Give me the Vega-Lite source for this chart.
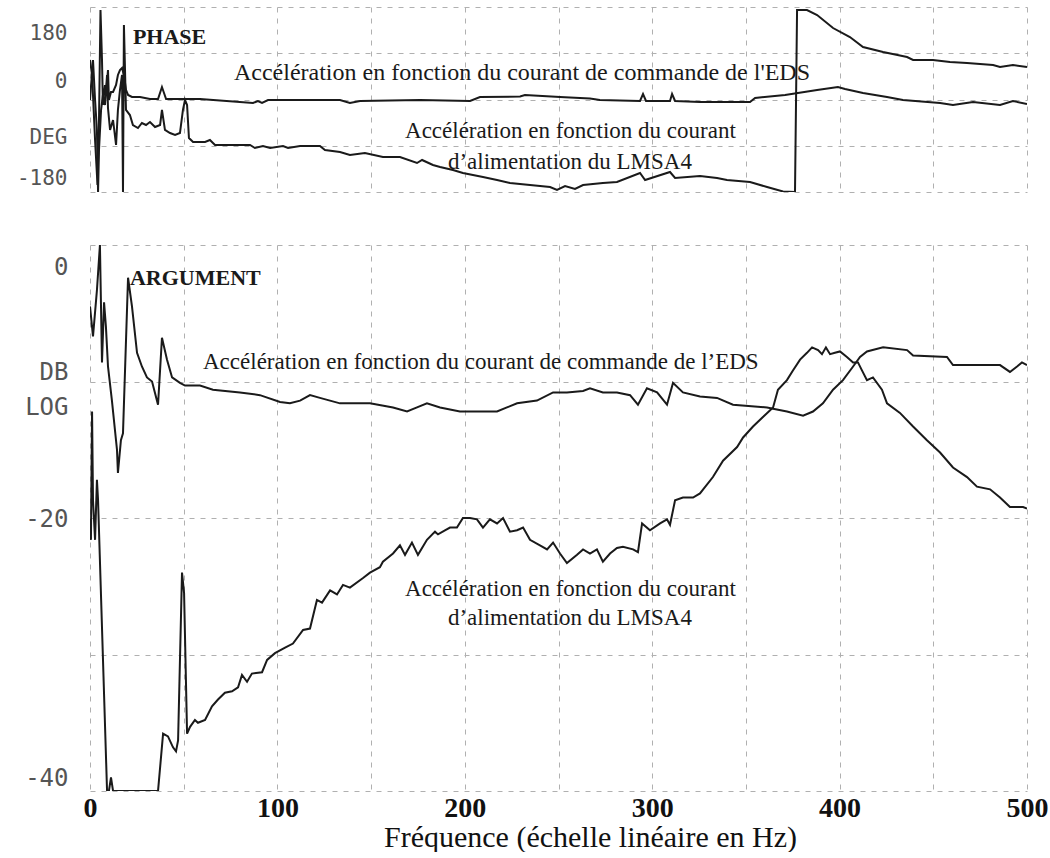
{
  "$schema": "https://vega.github.io/schema/vega-lite/v6.json",
  "background": "white",
  "padding": {"left": 16, "top": 7, "right": 5, "bottom": 0},
  "config": {"view": {"stroke": null}},
  "spacing": 53,
  "datasets": {
    "phase": [
      {"f":0,"v":76.9,"s":"EDS"},{"f":1.1,"v":47.7,"s":"EDS"},{"f":2.7,"v":-78.8,"s":"EDS"},{"f":4.0,"v":-166.4,"s":"EDS"},{"f":4.8,"v":-39.9,"s":"EDS"},{"f":5.6,"v":174.2,"s":"EDS"},{"f":6.4,"v":76.9,"s":"EDS"},{"f":6.9,"v":-10.7,"s":"EDS"},{"f":8.0,"v":28.2,"s":"EDS"},{"f":8.5,"v":8.8,"s":"EDS"},{"f":9.6,"v":57.4,"s":"EDS"},{"f":10.1,"v":-1.0,"s":"EDS"},{"f":11.2,"v":14.6,"s":"EDS"},{"f":12.3,"v":14.6,"s":"EDS"},{"f":13.9,"v":28.2,"s":"EDS"},{"f":14.9,"v":47.7,"s":"EDS"},{"f":16.0,"v":57.4,"s":"EDS"},{"f":17.1,"v":61.3,"s":"EDS"},{"f":18.1,"v":47.7,"s":"EDS"},{"f":19.2,"v":18.5,"s":"EDS"},{"f":20.3,"v":8.8,"s":"EDS"},{"f":22.4,"v":4.9,"s":"EDS"},{"f":26.7,"v":4.9,"s":"EDS"},{"f":32.0,"v":1.0,"s":"EDS"},{"f":36.3,"v":1.0,"s":"EDS"},{"f":38.4,"v":24.3,"s":"EDS"},{"f":40.6,"v":1.0,"s":"EDS"},{"f":58.7,"v":1.0,"s":"EDS"},{"f":87.0,"v":-6.8,"s":"EDS"},{"f":89.6,"v":-2.9,"s":"EDS"},{"f":91.8,"v":-6.8,"s":"EDS"},{"f":95.0,"v":-1.0,"s":"EDS"},{"f":112.1,"v":-1.0,"s":"EDS"},{"f":133.4,"v":-1.0,"s":"EDS"},{"f":138.7,"v":-6.8,"s":"EDS"},{"f":144.1,"v":-2.9,"s":"EDS"},{"f":176.1,"v":-1.0,"s":"EDS"},{"f":202.8,"v":-2.9,"s":"EDS"},{"f":208.1,"v":4.9,"s":"EDS"},{"f":229.5,"v":5.8,"s":"EDS"},{"f":232.1,"v":8.8,"s":"EDS"},{"f":250.8,"v":4.9,"s":"EDS"},{"f":266.8,"v":1.9,"s":"EDS"},{"f":272.1,"v":-1.0,"s":"EDS"},{"f":293.5,"v":-2.9,"s":"EDS"},{"f":295.1,"v":10.7,"s":"EDS"},{"f":296.7,"v":-2.9,"s":"EDS"},{"f":309.5,"v":-2.9,"s":"EDS"},{"f":310.6,"v":10.7,"s":"EDS"},{"f":312.2,"v":-2.9,"s":"EDS"},{"f":325.5,"v":-4.9,"s":"EDS"},{"f":352.2,"v":-4.9,"s":"EDS"},{"f":354.9,"v":2.9,"s":"EDS"},{"f":370.9,"v":8.8,"s":"EDS"},{"f":388.0,"v":18.5,"s":"EDS"},{"f":399.1,"v":24.3,"s":"EDS"},{"f":402.9,"v":20.4,"s":"EDS"},{"f":412.5,"v":12.7,"s":"EDS"},{"f":425.3,"v":4.9,"s":"EDS"},{"f":433.8,"v":-1.0,"s":"EDS"},{"f":453.6,"v":-6.8,"s":"EDS"},{"f":460.5,"v":-10.7,"s":"EDS"},{"f":471.2,"v":-4.9,"s":"EDS"},{"f":485.6,"v":-10.7,"s":"EDS"},{"f":492.5,"v":-2.9,"s":"EDS"},{"f":500,"v":-8.8,"s":"EDS"},
      {"f":0,"v":-1.0,"s":"LMSA4"},{"f":1.6,"v":76.9,"s":"LMSA4"},{"f":2.7,"v":-1.0,"s":"LMSA4"},{"f":3.7,"v":-59.3,"s":"LMSA4"},{"f":4.3,"v":-180,"s":"LMSA4"},{"f":4.8,"v":-98.3,"s":"LMSA4"},{"f":5.9,"v":-20.4,"s":"LMSA4"},{"f":6.9,"v":8.8,"s":"LMSA4"},{"f":8.0,"v":-10.7,"s":"LMSA4"},{"f":9.1,"v":47.7,"s":"LMSA4"},{"f":9.6,"v":-16.5,"s":"LMSA4"},{"f":10.7,"v":-59.3,"s":"LMSA4"},{"f":12.3,"v":-39.9,"s":"LMSA4"},{"f":13.9,"v":-88.5,"s":"LMSA4"},{"f":14.9,"v":-20.4,"s":"LMSA4"},{"f":16.0,"v":18.5,"s":"LMSA4"},{"f":17.1,"v":47.7,"s":"LMSA4"},{"f":17.6,"v":-180,"s":"LMSA4"},{"f":18.1,"v":145,"s":"LMSA4"},{"f":19.2,"v":-20.4,"s":"LMSA4"},{"f":21.3,"v":-30.2,"s":"LMSA4"},{"f":22.9,"v":-49.6,"s":"LMSA4"},{"f":25.6,"v":-55.5,"s":"LMSA4"},{"f":27.7,"v":-45.7,"s":"LMSA4"},{"f":29.9,"v":-49.6,"s":"LMSA4"},{"f":32.0,"v":-43.8,"s":"LMSA4"},{"f":34.7,"v":-53.5,"s":"LMSA4"},{"f":37.4,"v":-49.6,"s":"LMSA4"},{"f":38.4,"v":-20.4,"s":"LMSA4"},{"f":40.0,"v":-59.3,"s":"LMSA4"},{"f":42.7,"v":-65.2,"s":"LMSA4"},{"f":45.4,"v":-69.1,"s":"LMSA4"},{"f":48.0,"v":-65.2,"s":"LMSA4"},{"f":49.6,"v":-20.4,"s":"LMSA4"},{"f":50.7,"v":-1.0,"s":"LMSA4"},{"f":51.8,"v":-10.7,"s":"LMSA4"},{"f":52.8,"v":-74.9,"s":"LMSA4"},{"f":55.0,"v":-82.7,"s":"LMSA4"},{"f":61.4,"v":-82.7,"s":"LMSA4"},{"f":64.0,"v":-78.8,"s":"LMSA4"},{"f":66.7,"v":-88.5,"s":"LMSA4"},{"f":85.4,"v":-88.5,"s":"LMSA4"},{"f":88.0,"v":-94.4,"s":"LMSA4"},{"f":92.3,"v":-90.5,"s":"LMSA4"},{"f":96.1,"v":-94.4,"s":"LMSA4"},{"f":103.0,"v":-90.5,"s":"LMSA4"},{"f":105.7,"v":-94.4,"s":"LMSA4"},{"f":112.1,"v":-90.5,"s":"LMSA4"},{"f":122.7,"v":-90.5,"s":"LMSA4"},{"f":125.4,"v":-98.3,"s":"LMSA4"},{"f":133.4,"v":-102.2,"s":"LMSA4"},{"f":138.7,"v":-108.0,"s":"LMSA4"},{"f":146.7,"v":-104.1,"s":"LMSA4"},{"f":156.3,"v":-111.9,"s":"LMSA4"},{"f":165.4,"v":-111.9,"s":"LMSA4"},{"f":174.5,"v":-123.6,"s":"LMSA4"},{"f":177.2,"v":-117.7,"s":"LMSA4"},{"f":183.0,"v":-127.5,"s":"LMSA4"},{"f":186.8,"v":-131.3,"s":"LMSA4"},{"f":193.7,"v":-137.2,"s":"LMSA4"},{"f":199.0,"v":-143.0,"s":"LMSA4"},{"f":209.7,"v":-150.8,"s":"LMSA4"},{"f":217.2,"v":-156.6,"s":"LMSA4"},{"f":224.1,"v":-162.5,"s":"LMSA4"},{"f":234.8,"v":-166.4,"s":"LMSA4"},{"f":245.5,"v":-170.3,"s":"LMSA4"},{"f":249.2,"v":-176.1,"s":"LMSA4"},{"f":253.5,"v":-168.3,"s":"LMSA4"},{"f":258.8,"v":-174.2,"s":"LMSA4"},{"f":263.1,"v":-166.4,"s":"LMSA4"},{"f":273.7,"v":-162.5,"s":"LMSA4"},{"f":281.2,"v":-160.5,"s":"LMSA4"},{"f":293.5,"v":-143.0,"s":"LMSA4"},{"f":296.2,"v":-156.6,"s":"LMSA4"},{"f":309.5,"v":-141.1,"s":"LMSA4"},{"f":312.2,"v":-152.7,"s":"LMSA4"},{"f":325.5,"v":-148.9,"s":"LMSA4"},{"f":334.6,"v":-152.7,"s":"LMSA4"},{"f":339.9,"v":-156.6,"s":"LMSA4"},{"f":352.2,"v":-160.5,"s":"LMSA4"},{"f":361.3,"v":-170.3,"s":"LMSA4"},{"f":369.8,"v":-179,"s":"LMSA4"},{"f":376.2,"v":-180,"s":"LMSA4"},{"f":377.3,"v":174.2,"s":"LMSA4"},{"f":382.6,"v":174.2,"s":"LMSA4"},{"f":388.0,"v":164.4,"s":"LMSA4"},{"f":396.5,"v":139.1,"s":"LMSA4"},{"f":405.5,"v":121.6,"s":"LMSA4"},{"f":412.5,"v":102.2,"s":"LMSA4"},{"f":423.2,"v":92.4,"s":"LMSA4"},{"f":436.0,"v":82.7,"s":"LMSA4"},{"f":439.2,"v":76.9,"s":"LMSA4"},{"f":449.8,"v":76.9,"s":"LMSA4"},{"f":458.9,"v":73.0,"s":"LMSA4"},{"f":468.0,"v":71.0,"s":"LMSA4"},{"f":481.9,"v":67.1,"s":"LMSA4"},{"f":485.6,"v":63.2,"s":"LMSA4"},{"f":492.5,"v":67.1,"s":"LMSA4"},{"f":500,"v":63.2,"s":"LMSA4"}
    ],
    "arg": [
      {"f":0,"v":-4.5,"s":"EDS"},{"f":1.6,"v":-6.7,"s":"EDS"},{"f":3.7,"v":-3.3,"s":"EDS"},{"f":5.3,"v":0,"s":"EDS"},{"f":6.4,"v":-8.6,"s":"EDS"},{"f":7.5,"v":-4.2,"s":"EDS"},{"f":8.5,"v":-6.0,"s":"EDS"},{"f":9.6,"v":-8.9,"s":"EDS"},{"f":11.7,"v":-11.4,"s":"EDS"},{"f":14.4,"v":-15.0,"s":"EDS"},{"f":14.9,"v":-16.7,"s":"EDS"},{"f":16.5,"v":-14.3,"s":"EDS"},{"f":17.6,"v":-13.8,"s":"EDS"},{"f":20.3,"v":-2.4,"s":"EDS"},{"f":22.4,"v":-4.5,"s":"EDS"},{"f":25.1,"v":-7.9,"s":"EDS"},{"f":27.7,"v":-8.9,"s":"EDS"},{"f":30.4,"v":-9.7,"s":"EDS"},{"f":33.1,"v":-10.0,"s":"EDS"},{"f":36.3,"v":-11.7,"s":"EDS"},{"f":38.4,"v":-6.8,"s":"EDS"},{"f":41.1,"v":-8.4,"s":"EDS"},{"f":43.8,"v":-9.7,"s":"EDS"},{"f":48.0,"v":-10.1,"s":"EDS"},{"f":50.7,"v":-10.3,"s":"EDS"},{"f":58.7,"v":-10.3,"s":"EDS"},{"f":65.6,"v":-10.6,"s":"EDS"},{"f":80.0,"v":-10.8,"s":"EDS"},{"f":90.7,"v":-11.0,"s":"EDS"},{"f":101.4,"v":-11.5,"s":"EDS"},{"f":106.7,"v":-11.6,"s":"EDS"},{"f":112.1,"v":-11.4,"s":"EDS"},{"f":117.4,"v":-11.0,"s":"EDS"},{"f":122.7,"v":-11.2,"s":"EDS"},{"f":133.4,"v":-11.6,"s":"EDS"},{"f":149.4,"v":-11.6,"s":"EDS"},{"f":161.7,"v":-11.9,"s":"EDS"},{"f":169.2,"v":-12.2,"s":"EDS"},{"f":174.5,"v":-11.9,"s":"EDS"},{"f":179.8,"v":-11.6,"s":"EDS"},{"f":186.8,"v":-11.9,"s":"EDS"},{"f":197.4,"v":-12.2,"s":"EDS"},{"f":217.2,"v":-12.2,"s":"EDS"},{"f":222.5,"v":-11.9,"s":"EDS"},{"f":227.9,"v":-11.6,"s":"EDS"},{"f":238.5,"v":-11.4,"s":"EDS"},{"f":247.1,"v":-10.8,"s":"EDS"},{"f":254.5,"v":-10.8,"s":"EDS"},{"f":263.1,"v":-10.7,"s":"EDS"},{"f":266.8,"v":-10.5,"s":"EDS"},{"f":273.7,"v":-10.8,"s":"EDS"},{"f":281.2,"v":-10.8,"s":"EDS"},{"f":288.2,"v":-11.0,"s":"EDS"},{"f":292.4,"v":-11.7,"s":"EDS"},{"f":297.2,"v":-10.5,"s":"EDS"},{"f":302.6,"v":-10.8,"s":"EDS"},{"f":307.9,"v":-11.7,"s":"EDS"},{"f":311.1,"v":-10.1,"s":"EDS"},{"f":316.4,"v":-10.8,"s":"EDS"},{"f":325.5,"v":-11.1,"s":"EDS"},{"f":334.6,"v":-11.2,"s":"EDS"},{"f":343.1,"v":-11.7,"s":"EDS"},{"f":361.3,"v":-11.9,"s":"EDS"},{"f":364.5,"v":-12.0,"s":"EDS"},{"f":371.9,"v":-12.2,"s":"EDS"},{"f":380.5,"v":-12.5,"s":"EDS"},{"f":385.8,"v":-12.2,"s":"EDS"},{"f":391.1,"v":-11.6,"s":"EDS"},{"f":396.5,"v":-10.6,"s":"EDS"},{"f":401.8,"v":-9.9,"s":"EDS"},{"f":407.2,"v":-8.9,"s":"EDS"},{"f":410.9,"v":-8.2,"s":"EDS"},{"f":414.6,"v":-7.8,"s":"EDS"},{"f":423.2,"v":-7.5,"s":"EDS"},{"f":436.0,"v":-7.7,"s":"EDS"},{"f":439.2,"v":-8.1,"s":"EDS"},{"f":457.3,"v":-8.2,"s":"EDS"},{"f":460.5,"v":-8.8,"s":"EDS"},{"f":485.6,"v":-8.8,"s":"EDS"},{"f":490.9,"v":-9.3,"s":"EDS"},{"f":494.7,"v":-8.9,"s":"EDS"},{"f":497.3,"v":-8.6,"s":"EDS"},{"f":500,"v":-8.8,"s":"EDS"},
      {"f":0,"v":-20.1,"s":"LMSA4"},{"f":0.5,"v":-21.6,"s":"LMSA4"},{"f":1.1,"v":-12.2,"s":"LMSA4"},{"f":1.6,"v":-18.7,"s":"LMSA4"},{"f":2.7,"v":-21.6,"s":"LMSA4"},{"f":3.7,"v":-17.2,"s":"LMSA4"},{"f":4.3,"v":-18.7,"s":"LMSA4"},{"f":9.1,"v":-40,"s":"LMSA4"},{"f":10.1,"v":-40,"s":"LMSA4"},{"f":11.2,"v":-39.0,"s":"LMSA4"},{"f":12.3,"v":-40,"s":"LMSA4"},{"f":36.3,"v":-40,"s":"LMSA4"},{"f":39.0,"v":-35.8,"s":"LMSA4"},{"f":41.6,"v":-36.0,"s":"LMSA4"},{"f":44.3,"v":-36.8,"s":"LMSA4"},{"f":45.9,"v":-37.1,"s":"LMSA4"},{"f":47.0,"v":-36.3,"s":"LMSA4"},{"f":49.1,"v":-24.0,"s":"LMSA4"},{"f":50.2,"v":-25.5,"s":"LMSA4"},{"f":51.8,"v":-35.8,"s":"LMSA4"},{"f":53.4,"v":-35.3,"s":"LMSA4"},{"f":56.0,"v":-34.8,"s":"LMSA4"},{"f":57.6,"v":-35.0,"s":"LMSA4"},{"f":61.4,"v":-34.8,"s":"LMSA4"},{"f":65.1,"v":-33.8,"s":"LMSA4"},{"f":68.3,"v":-33.3,"s":"LMSA4"},{"f":72.0,"v":-32.8,"s":"LMSA4"},{"f":75.8,"v":-32.7,"s":"LMSA4"},{"f":79.0,"v":-32.4,"s":"LMSA4"},{"f":81.1,"v":-31.5,"s":"LMSA4"},{"f":83.8,"v":-32.0,"s":"LMSA4"},{"f":86.4,"v":-31.4,"s":"LMSA4"},{"f":91.8,"v":-31.3,"s":"LMSA4"},{"f":94.5,"v":-30.4,"s":"LMSA4"},{"f":98.7,"v":-29.9,"s":"LMSA4"},{"f":104.1,"v":-29.5,"s":"LMSA4"},{"f":108.3,"v":-29.2,"s":"LMSA4"},{"f":113.7,"v":-28.2,"s":"LMSA4"},{"f":117.4,"v":-28.1,"s":"LMSA4"},{"f":121.1,"v":-26.0,"s":"LMSA4"},{"f":123.8,"v":-26.2,"s":"LMSA4"},{"f":128.1,"v":-25.3,"s":"LMSA4"},{"f":131.8,"v":-25.6,"s":"LMSA4"},{"f":135.0,"v":-24.9,"s":"LMSA4"},{"f":138.7,"v":-25.1,"s":"LMSA4"},{"f":145.7,"v":-24.4,"s":"LMSA4"},{"f":149.4,"v":-24.0,"s":"LMSA4"},{"f":154.7,"v":-23.6,"s":"LMSA4"},{"f":156.3,"v":-23.2,"s":"LMSA4"},{"f":161.7,"v":-22.6,"s":"LMSA4"},{"f":165.4,"v":-22.0,"s":"LMSA4"},{"f":168.1,"v":-22.7,"s":"LMSA4"},{"f":171.8,"v":-21.8,"s":"LMSA4"},{"f":175.0,"v":-22.7,"s":"LMSA4"},{"f":179.8,"v":-21.6,"s":"LMSA4"},{"f":184.1,"v":-21.0,"s":"LMSA4"},{"f":185.7,"v":-21.2,"s":"LMSA4"},{"f":189.4,"v":-20.9,"s":"LMSA4"},{"f":192.1,"v":-20.7,"s":"LMSA4"},{"f":195.8,"v":-20.7,"s":"LMSA4"},{"f":199.0,"v":-20.0,"s":"LMSA4"},{"f":202.8,"v":-20.0,"s":"LMSA4"},{"f":206.5,"v":-20.1,"s":"LMSA4"},{"f":209.7,"v":-20.7,"s":"LMSA4"},{"f":213.4,"v":-20.1,"s":"LMSA4"},{"f":217.2,"v":-20.4,"s":"LMSA4"},{"f":220.4,"v":-20.0,"s":"LMSA4"},{"f":224.1,"v":-21.0,"s":"LMSA4"},{"f":227.9,"v":-20.9,"s":"LMSA4"},{"f":231.1,"v":-20.7,"s":"LMSA4"},{"f":234.8,"v":-21.6,"s":"LMSA4"},{"f":240.1,"v":-22.0,"s":"LMSA4"},{"f":243.9,"v":-22.3,"s":"LMSA4"},{"f":247.1,"v":-21.8,"s":"LMSA4"},{"f":250.8,"v":-22.6,"s":"LMSA4"},{"f":254.5,"v":-23.3,"s":"LMSA4"},{"f":259.9,"v":-22.7,"s":"LMSA4"},{"f":263.1,"v":-22.3,"s":"LMSA4"},{"f":266.8,"v":-22.6,"s":"LMSA4"},{"f":270.5,"v":-22.3,"s":"LMSA4"},{"f":273.7,"v":-23.2,"s":"LMSA4"},{"f":277.5,"v":-22.6,"s":"LMSA4"},{"f":281.2,"v":-22.2,"s":"LMSA4"},{"f":284.4,"v":-22.1,"s":"LMSA4"},{"f":289.8,"v":-22.3,"s":"LMSA4"},{"f":292.4,"v":-22.5,"s":"LMSA4"},{"f":294.6,"v":-20.4,"s":"LMSA4"},{"f":298.8,"v":-20.9,"s":"LMSA4"},{"f":304.2,"v":-20.4,"s":"LMSA4"},{"f":307.9,"v":-20.1,"s":"LMSA4"},{"f":309.5,"v":-20.5,"s":"LMSA4"},{"f":312.2,"v":-18.7,"s":"LMSA4"},{"f":316.4,"v":-18.5,"s":"LMSA4"},{"f":321.8,"v":-18.5,"s":"LMSA4"},{"f":325.5,"v":-18.2,"s":"LMSA4"},{"f":332.4,"v":-17.0,"s":"LMSA4"},{"f":337.8,"v":-15.8,"s":"LMSA4"},{"f":345.3,"v":-14.8,"s":"LMSA4"},{"f":348.5,"v":-14.1,"s":"LMSA4"},{"f":353.8,"v":-13.3,"s":"LMSA4"},{"f":359.1,"v":-12.6,"s":"LMSA4"},{"f":364.5,"v":-11.9,"s":"LMSA4"},{"f":367.1,"v":-10.6,"s":"LMSA4"},{"f":371.9,"v":-9.9,"s":"LMSA4"},{"f":375.1,"v":-9.2,"s":"LMSA4"},{"f":378.9,"v":-8.4,"s":"LMSA4"},{"f":382.6,"v":-7.9,"s":"LMSA4"},{"f":385.3,"v":-7.5,"s":"LMSA4"},{"f":388.5,"v":-7.7,"s":"LMSA4"},{"f":390.6,"v":-8.0,"s":"LMSA4"},{"f":392.7,"v":-7.5,"s":"LMSA4"},{"f":394.9,"v":-8.0,"s":"LMSA4"},{"f":397.5,"v":-7.9,"s":"LMSA4"},{"f":400.2,"v":-7.8,"s":"LMSA4"},{"f":403.9,"v":-8.2,"s":"LMSA4"},{"f":407.2,"v":-8.6,"s":"LMSA4"},{"f":409.8,"v":-8.6,"s":"LMSA4"},{"f":412.0,"v":-9.2,"s":"LMSA4"},{"f":414.6,"v":-9.9,"s":"LMSA4"},{"f":417.8,"v":-9.7,"s":"LMSA4"},{"f":422.6,"v":-10.6,"s":"LMSA4"},{"f":425.3,"v":-11.6,"s":"LMSA4"},{"f":432.2,"v":-12.3,"s":"LMSA4"},{"f":439.2,"v":-13.3,"s":"LMSA4"},{"f":446.6,"v":-14.3,"s":"LMSA4"},{"f":453.6,"v":-15.2,"s":"LMSA4"},{"f":460.5,"v":-16.3,"s":"LMSA4"},{"f":468.0,"v":-17.0,"s":"LMSA4"},{"f":473.3,"v":-17.7,"s":"LMSA4"},{"f":480.3,"v":-17.9,"s":"LMSA4"},{"f":485.6,"v":-18.5,"s":"LMSA4"},{"f":490.9,"v":-19.2,"s":"LMSA4"},{"f":497.9,"v":-19.2,"s":"LMSA4"},{"f":500,"v":-19.3,"s":"LMSA4"}
    ]
  },
  "vconcat": [
    {
      "width": 937,
      "height": 185,
      "encoding": {
        "x": {"field": "f", "type": "quantitative",
          "scale": {"domain": [0, 500], "nice": false, "zero": false},
          "axis": {"values": [0,50,100,150,200,250,300,350,400,450,500], "labels": false, "ticks": false, "domain": false, "title": null,
            "grid": true, "gridColor": "#b0b0b0", "gridDash": [5, 6], "gridWidth": 1, "minExtent": 0, "maxExtent": 0}},
        "y": {"field": "v", "type": "quantitative",
          "scale": {"domain": [-180, 180], "nice": false, "zero": false},
          "axis": {"values": [180, 90, 0, -90, -180, 129.4, 34.1, -73.9, -154.7],
            "labelExpr": "datum.value % 90 === 0 ? '' : datum.value > 100 ? '180' : datum.value > 0 ? '0' : datum.value > -100 ? 'DEG' : '-180'",
            "labelFontSize": {"condition": {"test": "datum.value % 90 === 0", "value": 0}, "value": 21},
            "grid": true, "gridColor": "#b0b0b0", "gridDash": [5, 6], "gridWidth": 1,
            "gridOpacity": {"condition": {"test": "datum.value % 90 === 0", "value": 1}, "value": 0},
            "ticks": false, "domain": false, "title": null, "labelOverlap": false, "labelBound": false,
            "labelFont": "DejaVu Sans Mono", "labelColor": "#555555", "labelPadding": 23,
            "minExtent": 74, "maxExtent": 74}}
      },
      "layer": [
        {"data": {"name": "phase"}, "mark": {"type": "line", "color": "#1a1a1a", "strokeWidth": 2, "clip": true},
          "encoding": {"detail": {"field": "s"}}},
        {"data": {"values": [{"f": 22.9, "v": 121.6, "t": "PHASE"}]},
          "mark": {"type": "text", "font": "Liberation Serif", "fontWeight": "bold", "fontSize": 22, "align": "left", "baseline": "middle", "color": "#1a1a1a"},
          "encoding": {"text": {"field": "t"}}},
        {"data": {"values": [{"f": 76.8, "v": 51.6, "t": "Accélération en fonction du courant de commande de l'EDS"}]},
          "mark": {"type": "text", "font": "Liberation Serif", "fontSize": 24, "align": "left", "baseline": "middle", "color": "#1a1a1a"},
          "encoding": {"text": {"field": "t"}}},
        {"data": {"values": [{"f": 168.1, "v": -61.3, "t": "Accélération en fonction du courant"}, {"f": 191.0, "v": -121.6, "t": "d’alimentation du LMSA4"}]},
          "mark": {"type": "text", "font": "Liberation Serif", "fontSize": 23, "align": "left", "baseline": "middle", "color": "#1a1a1a"},
          "encoding": {"text": {"field": "t"}}}
      ]
    },
    {
      "width": 937,
      "height": 546,
      "encoding": {
        "x": {"field": "f", "type": "quantitative",
          "scale": {"domain": [0, 500], "nice": false, "zero": false},
          "axis": {"values": [0,50,100,150,200,250,300,350,400,450,500],
            "labelExpr": "datum.value % 100 === 0 ? datum.label : ''",
            "ticks": false, "domain": false, "labelOverlap": false, "labelBound": false, "labelFlush": false,
            "grid": true, "gridColor": "#b0b0b0", "gridDash": [5, 6], "gridWidth": 1,
            "labelFont": "Liberation Serif", "labelFontWeight": "bold", "labelFontSize": 28, "labelColor": "#111111", "labelPadding": 3,
            "title": "Fréquence (échelle linéaire en Hz)", "titleFont": "Liberation Serif", "titleFontWeight": "normal", "titleFontSize": 30, "titleColor": "#111111", "titlePadding": 0, "titleX": 500}},
        "y": {"field": "v", "type": "quantitative",
          "scale": {"domain": [-40, 0], "nice": false, "zero": false},
          "axis": {"values": [0, -10, -20, -30, -40, -1.65, -9.34, -11.9, -20.1, -39.1],
            "labelExpr": "datum.value % 10 === 0 ? '' : datum.value > -5 ? '0' : datum.value > -10.5 ? 'DB' : datum.value > -15 ? 'LOG' : datum.value > -30 ? '-20' : '-40'",
            "labelFontSize": {"condition": {"test": "datum.value % 10 === 0", "value": 0}, "value": 24},
            "grid": true, "gridColor": "#b0b0b0", "gridDash": [5, 6], "gridWidth": 1,
            "gridOpacity": {"condition": {"test": "datum.value % 10 === 0", "value": 1}, "value": 0},
            "ticks": false, "domain": false, "title": null, "labelOverlap": false, "labelBound": false,
            "labelFont": "DejaVu Sans Mono", "labelColor": "#555555", "labelPadding": 22,
            "minExtent": 74, "maxExtent": 74}}
      },
      "layer": [
        {"data": {"name": "arg"}, "mark": {"type": "line", "color": "#1a1a1a", "strokeWidth": 2, "clip": true},
          "encoding": {"detail": {"field": "s"}}},
        {"data": {"values": [{"f": 21.3, "v": -2.4, "t": "ARGUMENT"}]},
          "mark": {"type": "text", "font": "Liberation Serif", "fontWeight": "bold", "fontSize": 22, "align": "left", "baseline": "middle", "color": "#1a1a1a"},
          "encoding": {"text": {"field": "t"}}},
        {"data": {"values": [{"f": 60.3, "v": -8.6, "t": "Accélération en fonction du courant de commande de l’EDS"}, {"f": 168.1, "v": -25.2, "t": "Accélération en fonction du courant"}, {"f": 191.0, "v": -27.3, "t": "d’alimentation du LMSA4"}]},
          "mark": {"type": "text", "font": "Liberation Serif", "fontSize": 23, "align": "left", "baseline": "middle", "color": "#1a1a1a"},
          "encoding": {"text": {"field": "t"}}}
      ]
    }
  ]
}
